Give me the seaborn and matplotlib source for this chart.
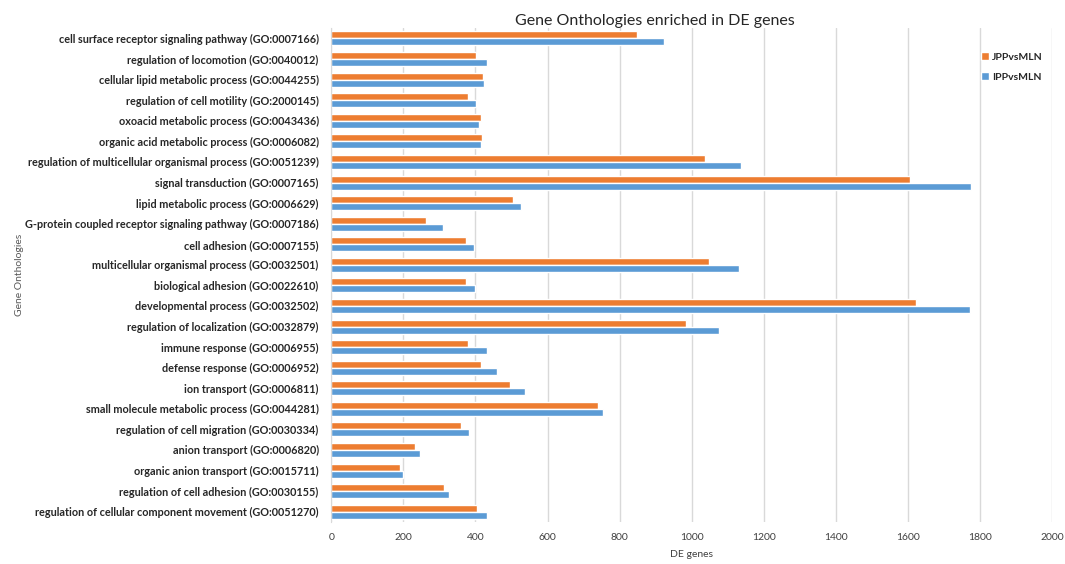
import pandas as pd
import seaborn as sns
import matplotlib.pyplot as plt

# GO terms, top to bottom as in the chart
terms = [
    "cell surface receptor signaling pathway (GO:0007166)",
    "regulation of locomotion (GO:0040012)",
    "cellular lipid metabolic process (GO:0044255)",
    "regulation of cell motility (GO:2000145)",
    "oxoacid metabolic process (GO:0043436)",
    "organic acid metabolic process (GO:0006082)",
    "regulation of multicellular organismal process (GO:0051239)",
    "signal transduction (GO:0007165)",
    "lipid metabolic process (GO:0006629)",
    "G-protein coupled receptor signaling pathway (GO:0007186)",
    "cell adhesion (GO:0007155)",
    "multicellular organismal process (GO:0032501)",
    "biological adhesion (GO:0022610)",
    "developmental process (GO:0032502)",
    "regulation of localization (GO:0032879)",
    "immune response (GO:0006955)",
    "defense response (GO:0006952)",
    "ion transport (GO:0006811)",
    "small molecule metabolic process (GO:0044281)",
    "regulation of cell migration (GO:0030334)",
    "anion transport (GO:0006820)",
    "organic anion transport (GO:0015711)",
    "regulation of cell adhesion (GO:0030155)",
    "regulation of cellular component movement (GO:0051270)",
]

jpp = [848, 403, 422, 379, 415, 419, 1037, 1606, 505, 263, 374, 1047,
       374, 1622, 985, 379, 415, 497, 739, 360, 232, 191, 312, 405]
ipp = [923, 433, 425, 403, 409, 415, 1136, 1776, 526, 309, 395, 1130,
       398, 1772, 1077, 433, 460, 537, 754, 381, 245, 199, 328, 433]

df = pd.DataFrame({"term": terms * 2,
                   "genes": jpp + ipp,
                   "group": ["JPPvsMLN"] * len(terms) + ["IPPvsMLN"] * len(terms)})

sns.set_style("white")
plt.rcParams['font.family'] = ['Lato', 'DejaVu Sans']

fig = plt.figure(figsize=(10.65, 5.64), dpi=100)
ax = fig.add_axes([0.311, 0.0745, 0.677, 0.8755])

sns.barplot(data=df, y="term", x="genes", hue="group",
            hue_order=["JPPvsMLN", "IPPvsMLN"],
            palette=["#ED7D31", "#5B9BD5"], saturation=1, width=0.68,
            orient="h", ax=ax, zorder=2)

ax.set_xlim(0, 2000)
ax.set_xticks(range(0, 2001, 200))
ax.grid(axis="x", color="#D9D9D9", linewidth=1, zorder=0)
ax.set_axisbelow(True)
for s in ["top", "right", "bottom"]:
    ax.spines[s].set_visible(False)
ax.spines["left"].set_color("#D9D9D9")

ax.tick_params(axis="y", length=0, pad=9, labelsize=7.8)
ax.tick_params(axis="x", length=0, pad=8, labelsize=7.5, labelcolor="#404040")
for lbl in ax.get_yticklabels():
    lbl.set_fontweight("bold")

ax.set_xlabel("DE genes", fontsize=7.5, color="#404040", labelpad=6)
ax.set_ylabel("Gene Onthologies", fontsize=7.5, color="#595959")
ax.yaxis.set_label_coords(-0.426, 0.5)

fig.text(0.615, 0.962, "Gene Onthologies enriched in DE genes",
         ha="center", va="center", fontsize=11.5, color="#262626")

ax.legend(loc="upper right", bbox_to_anchor=(1.0, 0.97), frameon=False,
          handlelength=0.8, handleheight=0.8,
          handletextpad=0.3, labelspacing=1.0,
          prop={"weight": "bold", "size": 7.5})

fig.savefig("out.png", dpi=100)
